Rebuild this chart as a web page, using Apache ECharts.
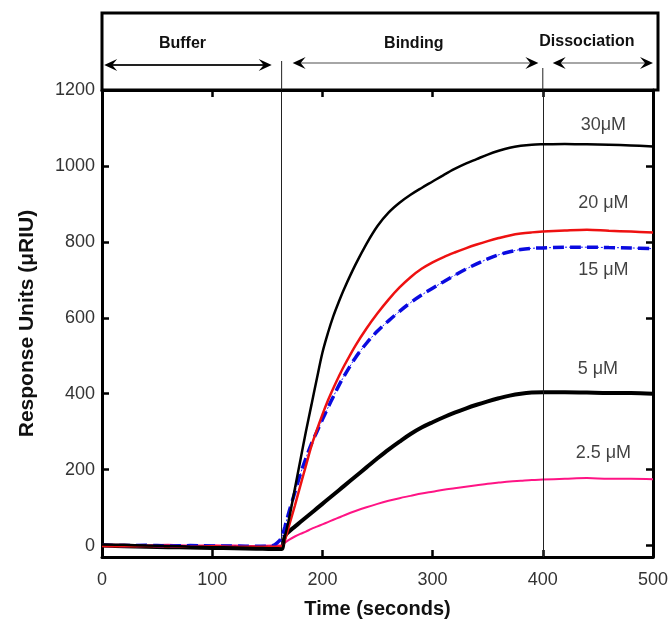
<!DOCTYPE html>
<html>
<head>
<meta charset="utf-8">
<title>SPR sensorgram</title>
<script src="https://cdn.jsdelivr.net/npm/echarts@6/dist/echarts.min.js"></script>
<style>
  html, body { margin: 0; padding: 0; background: #fff; }
  #chart { width: 669px; height: 620px; }
</style>
</head>
<body>
<div id="chart"></div>
<script>
// Time points (seconds) shared by every sensorgram trace
const times = [0, 20, 40, 60, 80, 100, 120, 140, 155, 160, 163,
  166, 170, 175, 180, 185, 190, 195, 200, 205, 210, 215, 220,
  230, 240, 250, 260, 270, 280, 290, 300, 310, 320, 330, 340, 350, 360, 370, 380, 390, 400,
  420, 440, 460, 480, 500];

// Response units (µRIU) for each analyte concentration
const resp30 = [3, 2, 0, -1, -3, -4, -5, -6, -7, -7, -8,
  25, 75, 150, 225, 300, 370, 440, 508, 560, 605, 643, 678,
  740, 795, 842, 877, 903, 924, 942, 959, 976, 992, 1006, 1018, 1030, 1040, 1048, 1053, 1056, 1057,
  1058, 1057, 1056, 1054, 1051];
const resp20 = [-1, -2, -1, -2, -3, -2, -3, -3, -3, -3, -2,
  15, 55, 105, 158, 210, 262, 305, 345, 382, 415, 446, 475,
  527, 572, 612, 648, 680, 707, 729, 746, 760, 772, 783, 793, 802, 810, 817, 822, 825, 827,
  830, 832, 829, 827, 825];
const resp15 = [1, 0, 1, -1, 0, -1, -1, -2, 0, 10, 22,
  50, 92, 140, 188, 230, 268, 300, 332, 363, 393, 422, 448,
  495, 533, 565, 592, 617, 640, 660, 678, 695, 712, 728, 742, 755, 766, 774, 780, 783, 784,
  786, 786, 785, 784, 782];
const resp5 = [0, -2, -3, -4, -5, -6, -7, -8, -9, -9, -9,
  25, 38, 50, 62, 74, 86, 98, 110, 122, 134, 146, 158,
  182, 206, 230, 253, 274, 294, 311, 325, 338, 350, 361, 371, 380, 388, 395, 400, 403, 404,
  404, 403, 402, 402, 400];
const resp2p5 = [3, 2, 1, 2, 0, 1, 0, -1, 0, 0, 1,
  8, 16, 24, 31, 37, 44, 50, 56, 62, 68, 74, 80,
  91, 101, 110, 118, 125, 131, 137, 142, 147, 151, 155, 159, 163, 166, 169, 171, 173, 174,
  176, 178, 176, 176, 175];

// Concentration labels and where they sit (time, response)
const concLabels = ['30\u03bcM', '20 \u03bcM', '15 \u03bcM', '5 \u03bcM', '2.5 \u03bcM'];
const concLabelAt = [[455, 1108], [455, 903], [455, 726], [450, 466], [455, 245]];

// Experiment phases shown in the strip above the plot
const phaseNames = ['Buffer', 'Binding', 'Dissociation'];
const phaseSpans = [[2, 154], [173, 396], [409, 500]];
const phaseTextAt = [73, 283, 440];
const injectStart = 163;
const injectEnd = 400;

// Axis ticks
const yTicks = [0, 200, 400, 600, 800, 1000, 1200];

const pair = (vals) => times.map((t, i) => [t, vals[i]]);

const FONT = '"Liberation Sans", Arial, Helvetica, sans-serif';
const grid = { left: 102, right: 16, top: 90, bottom: 63, containLabel: false, outerBoundsMode: 'none' };

const chart = echarts.init(document.getElementById('chart'), null, { renderer: 'canvas' });

const axisLine = { show: true, onZero: false, lineStyle: { color: '#000', width: 3 } };
const tickIn = (len) => ({ show: true, inside: true, length: len, lineStyle: { color: '#000', width: 2.5 } });
const plain = (v) => String(v);

const traceBase = { type: 'line', showSymbol: false, symbol: 'none', smooth: 0.35 };

const option = {
  animation: false,
  backgroundColor: '#fff',
  grid: grid,
  xAxis: [{
    type: 'value', min: 0, max: 500, interval: 100, position: 'bottom',
    axisLine: axisLine, axisTick: tickIn(7), splitLine: { show: false },
    axisLabel: { color: '#333', fontFamily: FONT, fontSize: 18, margin: 14, formatter: plain },
    name: 'Time (seconds)', nameLocation: 'middle', nameGap: 42,
    nameTextStyle: { color: '#111', fontFamily: FONT, fontSize: 20, fontWeight: 'bold' }
  }, {
    type: 'value', min: 0, max: 500, interval: 100, position: 'top',
    axisLine: axisLine, axisTick: tickIn(7), splitLine: { show: false },
    axisLabel: { show: false }
  }],
  yAxis: [{
    type: 'value', min: -30, max: 1200, position: 'left',
    axisLine: axisLine,
    axisTick: Object.assign(tickIn(7), { customValues: yTicks }),
    splitLine: { show: false },
    axisLabel: { color: '#333', fontFamily: FONT, fontSize: 18, margin: 7, customValues: yTicks, formatter: plain },
    name: 'Response Units (\u03bcRIU)', nameLocation: 'middle', nameGap: 64, nameRotate: 90,
    nameTextStyle: { color: '#111', fontFamily: FONT, fontSize: 21, fontWeight: 'bold' }
  }, {
    type: 'value', min: -30, max: 1200, position: 'right',
    axisLine: axisLine,
    axisTick: Object.assign(tickIn(7), { customValues: yTicks }),
    splitLine: { show: false },
    axisLabel: { show: false }
  }],
  series: [
    Object.assign({}, traceBase, {
      name: '2.5 \u03bcM', data: pair(resp2p5),
      lineStyle: { color: '#ff1485', width: 2 }, z: 3,
      markLine: {
        silent: true, symbol: 'none', label: { show: false },
        lineStyle: { color: '#222', width: 1, type: 'solid' },
        data: [
          [{ coord: [injectStart, 0] }, { coord: [injectStart, 1200] }],
          [{ coord: [injectEnd, -30] }, { coord: [injectEnd, 1200] }]
        ]
      }
    }),
    Object.assign({}, traceBase, {
      name: '5 \u03bcM', data: pair(resp5),
      lineStyle: { color: '#000', width: 4 }, z: 4
    }),
    Object.assign({}, traceBase, {
      name: '15 \u03bcM', data: pair(resp15),
      lineStyle: { color: '#1a1aff', width: 1, type: [2, 2] }, z: 5
    }),
    Object.assign({}, traceBase, {
      name: '15 \u03bcM dashes', data: pair(resp15),
      lineStyle: { color: '#0a0ae0', width: 3.5, type: [11, 6] }, z: 5
    }),
    Object.assign({}, traceBase, {
      name: '20 \u03bcM', data: pair(resp20),
      lineStyle: { color: '#ee1111', width: 2.5 }, z: 6
    }),
    Object.assign({}, traceBase, {
      name: '30 \u03bcM', data: pair(resp30),
      lineStyle: { color: '#000', width: 2.5 }, z: 7
    }),
    {
      name: 'labels', type: 'scatter', symbolSize: 0, silent: true,
      data: concLabelAt.map((p, i) => ({ value: p, name: concLabels[i] })),
      label: {
        show: true, position: 'inside', formatter: (p) => p.name,
        color: '#111', fontFamily: FONT, fontSize: 18
      }
    }
  ]
};

chart.setOption(option);

// Phase strip above the plot: framed box, double-headed arrows and titles
const px = (t) => chart.convertToPixel({ xAxisIndex: 0 }, t);
const boxTop = 13, boxBottom = grid.top;
const boxLeft = grid.left, boxRight = 669 - grid.right + 5;
const arrowY = [65, 63, 63];
const arrowColor = ['#222', '#888', '#888'];
const arrowWidth = [2, 1.3, 1.3];

const head = (x, y, dir) => ({
  type: 'polygon', silent: true,
  shape: { points: [[x, y], [x - dir * 13, y - 6], [x - dir * 8, y], [x - dir * 13, y + 6]] },
  style: { fill: '#000' }, z: 20
});

const graphics = [{
  type: 'rect', silent: true,
  shape: { x: boxLeft, y: boxTop, width: boxRight - boxLeft, height: boxBottom - boxTop },
  style: { fill: 'none', stroke: '#000', lineWidth: 3 }, z: 18
}];

phaseNames.forEach((nm, i) => {
  const x1 = px(phaseSpans[i][0]);
  const x2 = px(phaseSpans[i][1]);
  const y = arrowY[i];
  graphics.push({
    type: 'line', silent: true,
    shape: { x1: x1 + 6, y1: y, x2: x2 - 6, y2: y },
    style: { stroke: arrowColor[i], lineWidth: arrowWidth[i] }, z: 19
  });
  graphics.push(head(x1, y, -1));
  graphics.push(head(x2, y, 1));
  graphics.push({
    type: 'text', silent: true,
    x: px(phaseTextAt[i]), y: i === 2 ? 42 : 44,
    style: {
      text: nm, fill: '#111', font: 'bold 16px ' + FONT,
      textAlign: 'center', textVerticalAlign: 'middle'
    }, z: 20
  });
});

// Phase boundaries continue up into the strip
graphics.push({
  type: 'line', silent: true,
  shape: { x1: px(injectStart), y1: 61, x2: px(injectStart), y2: boxBottom },
  style: { stroke: '#222', lineWidth: 1 }, z: 19
});
graphics.push({
  type: 'line', silent: true,
  shape: { x1: px(injectEnd), y1: 68, x2: px(injectEnd), y2: boxBottom },
  style: { stroke: '#222', lineWidth: 1 }, z: 19
});

chart.setOption({ graphic: graphics });
</script>
</body>
</html>
